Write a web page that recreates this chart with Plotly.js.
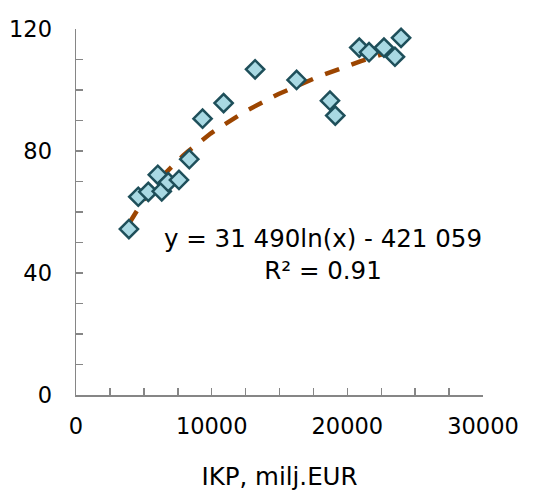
<!DOCTYPE html>
<html>
<head>
<meta charset="utf-8">
<script src="https://cdn.plot.ly/plotly-3.0.1.min.js"></script>
<style>html,body{margin:0;padding:0;background:#fff;}#chart{width:534px;height:491px;}</style>
</head>
<body>
<div id="chart"></div>
<script>
// GDP (IKP, milj. EUR) and index values
var ikp = [3900, 4590, 5330, 6030, 6320, 6800, 7590, 8350, 9330, 10880, 13200, 16260, 18720, 19110, 20880, 21600, 22700, 23510, 23960];
var values = [54.4, 65.0, 66.6, 72.2, 66.8, 69.8, 70.5, 77.3, 90.6, 95.7, 106.8, 103.3, 96.5, 91.6, 113.9, 112.4, 113.9, 110.9, 117.1];
var equationText = "y = 31 490ln(x) - 421 059";
var r2Text = "R² = 0.91";
var xTickVals = [0, 10000, 20000, 30000];
var yTickVals = [0, 40, 80, 120];
var xTitle = "IKP, milj.EUR";

// logarithmic least-squares trend line computed from the data
function logFit(xs, ys) {
  var n = xs.length, sl = 0, sy = 0, sll = 0, sly = 0;
  for (var i = 0; i < n; i++) {
    var l = Math.log(xs[i]);
    sl += l; sy += ys[i]; sll += l * l; sly += l * ys[i];
  }
  var a = (n * sly - sl * sy) / (n * sll - sl * sl);
  var b = (sy - a * sl) / n;
  return {a: a, b: b};
}
var fit = logFit(ikp, values);
var xmin = Math.min.apply(null, ikp), xmax = Math.max.apply(null, ikp);
var trendX = [], trendY = [];
for (var k = 0; k <= 60; k++) {
  var xv = xmin + (xmax - xmin) * k / 60;
  trendX.push(xv);
  trendY.push(fit.a * Math.log(xv) + fit.b);
}

var font = "Verdana, 'DejaVu Sans', sans-serif";
var axisColor = "#868686";

var data = [
  {
    x: trendX, y: trendY, type: "scatter", mode: "lines",
    line: {color: "#9C4500", width: 4.5, dash: "15px,13px"},
    hoverinfo: "skip", showlegend: false
  },
  {
    x: ikp, y: values, type: "scatter", mode: "markers",
    marker: {symbol: "diamond", size: 14, color: "#A9D9E3", line: {color: "#1E4F5A", width: 2.5}},
    showlegend: false, cliponaxis: false
  }
];

var layout = {
  width: 534, height: 491,
  margin: {l: 76, r: 51, t: 29, b: 96},
  paper_bgcolor: "#fff", plot_bgcolor: "#fff",
  font: {family: font, size: 22, color: "#000"},
  xaxis: {
    range: [0, 30000], tickvals: xTickVals, ticktext: xTickVals.map(String),
    showgrid: false, zeroline: false, showline: true, linecolor: axisColor, linewidth: 1.5,
    ticks: "inside", ticklen: 7, tickcolor: axisColor, tickwidth: 1.5,
    minor: {dtick: 2500, ticks: "inside", ticklen: 7, tickcolor: axisColor, tickwidth: 1.5, showgrid: false},
    ticklabelstandoff: 10,
    tickfont: {family: font, size: 22.5},
    title: {text: xTitle, font: {family: font, size: 24.5}, standoff: 30}
  },
  yaxis: {
    range: [0, 120], tickvals: yTickVals, ticktext: yTickVals.map(String),
    showgrid: false, zeroline: false, showline: true, linecolor: axisColor, linewidth: 1.5,
    ticks: "inside", ticklen: 7, tickcolor: axisColor, tickwidth: 1.5,
    minor: {dtick: 10, ticks: "inside", ticklen: 7, tickcolor: axisColor, tickwidth: 1.5, showgrid: false},
    ticklabelstandoff: 18,
    tickfont: {family: font, size: 22.5}
  },
  annotations: [{
    x: 18170, y: 46, xref: "x", yref: "y",
    text: equationText + "<br>" + r2Text,
    showarrow: false, align: "center", xanchor: "center", yanchor: "middle",
    font: {family: font, size: 24.5, color: "#000"}
  }]
};

Plotly.newPlot("chart", data, layout, {staticPlot: true, displayModeBar: false});
</script>
</body>
</html>
